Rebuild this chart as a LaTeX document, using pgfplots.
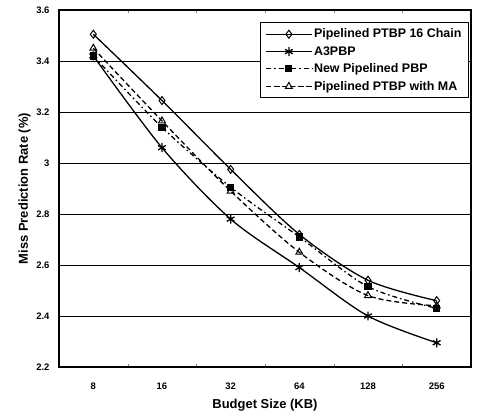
\documentclass[border=0pt]{standalone}
\usepackage{fontspec}
\setmainfont{Liberation Sans}
\usepackage{pgfplots}
\pgfplotsset{compat=1.18}

\begin{document}
\begin{tikzpicture}
\begin{axis}[
    scale only axis,
    width=412bp, height=357bp,
    xmin=-0.5, xmax=5.5,
    ymin=2.2, ymax=3.6,
    xtick={0,1,2,3,4,5},
    xticklabels={8,16,32,64,128,256},
    minor xtick={0.5,1.5,2.5,3.5,4.5},
    minor tick length=3pt,
    tick align=inside,
    ytick={2.2,2.4,2.6,2.8,3,3.2,3.4,3.6},
    yticklabel style={/pgf/number format/fixed},
    major tick length=0pt,
    ymajorgrids,
    grid style={black, line width=0.7pt},
    axis line style={line width=1.3pt},
    tick label style={font=\fontsize{9.5}{10}\selectfont\bfseries},
    /pgf/number format/assume math mode=true,
    xticklabel style={yshift=-12pt},
    yticklabel style={xshift=-6pt},
    xlabel={Budget Size (KB)},
    ylabel={Miss Prediction Rate (\%)},
    label style={font=\fontsize{13}{15}\selectfont\bfseries},
    xlabel style={yshift=-3pt},
    ylabel style={yshift=-1pt},
    legend style={at={(0.995,0.965)}, anchor=north east, draw=black, line width=1pt,
        font=\fontsize{12.5}{14}\selectfont\bfseries, row sep=3pt, inner xsep=5pt, inner ysep=4pt,
        cells={anchor=west}},
    legend image code/.code={
        \draw[mark repeat=2, mark phase=2] plot coordinates {(0cm,0cm) (0.8cm,0cm) (1.6cm,0cm)};
    },
    legend image post style={line width=1pt},
    every axis plot/.append style={black, line width=1.3pt},
]
\addplot[smooth, mark=diamond, mark size=4pt, mark options={solid, fill=white, line width=1pt}]
  coordinates {(0,3.505) (1,3.245) (2,2.975) (3,2.72) (4,2.54) (5,2.46)};
\addlegendentry{Pipelined PTBP 16 Chain}
\addplot[smooth, mark=asterisk, mark size=4.5pt, mark options={solid, line width=1.3pt}]
  coordinates {(0,3.42) (1,3.06) (2,2.78) (3,2.59) (4,2.40) (5,2.295)};
\addlegendentry{A3PBP}
\addplot[smooth, dash pattern=on 5pt off 3pt on 1.5pt off 3pt, mark=square*, mark size=3pt, mark options={solid}]
  coordinates {(0,3.42) (1,3.14) (2,2.905) (3,2.71) (4,2.515) (5,2.43)};
\addlegendentry{New Pipelined PBP}
\addplot[smooth, dash pattern=on 5pt off 3pt, mark=triangle, mark size=4pt, mark options={solid, fill=white, line width=1pt}]
  coordinates {(0,3.45) (1,3.165) (2,2.89) (3,2.65) (4,2.48) (5,2.44)};
\addlegendentry{Pipelined PTBP with MA}
\end{axis}
\path ([shift={(-59bp,-49bp)}]current axis.south west) rectangle ([shift={(8bp,10bp)}]current axis.north east);
\end{tikzpicture}
\end{document}
